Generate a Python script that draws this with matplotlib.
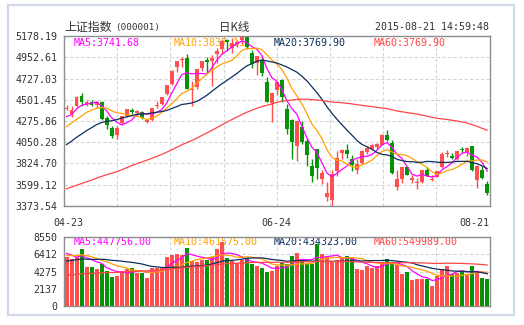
import numpy as np
import pandas as pd
import matplotlib
matplotlib.use("Agg")
import matplotlib.pyplot as plt
from matplotlib.patches import Rectangle

# ---------------- data ----------------
opens = [4407, 4350, 4440, 4538, 4446, 4483, 4441, 4479, 4310, 4202,
         4128, 4250, 4330, 4398, 4357, 4370, 4270, 4285, 4433, 4455,
         4562, 4667, 4854, 4928, 4943, 4603, 4633, 4845, 4924, 4912,
         4987, 5045, 5144, 5049, 5101, 5143, 5174, 5004, 4890, 4931,
         4690, 4471, 4604, 4711, 4399, 4289, 4006, 4214, 4058, 3793,
         3975, 3654, 3467, 3432, 3739, 3934, 3963, 3874, 3752, 3827,
         3950, 3976, 4001, 4020, 4124, 4042, 3573, 3653, 3785, 3649,
         3614, 3626, 3752, 3650, 3681, 3786, 3927, 3900, 3868, 3976,
         3947, 4006, 3646, 3755, 3609]
highs = [4444, 4431, 4547, 4572, 4499, 4504, 4489, 4488, 4331, 4222,
         4223, 4334, 4402, 4414, 4389, 4378, 4296, 4418, 4492, 4530,
         4658, 4814, 4911, 4958, 4986, 4698, 4829, 4911, 4956, 4976,
         5052, 5147, 5148, 5164, 5143, 5178.19, 5176, 5029, 4969, 4967,
         4744, 4577, 4691, 4720, 4456, 4297, 4287, 4280, 4080, 3874,
         3975, 3750, 3622, 3749, 3960, 3976, 4031, 3918, 3871, 3963,
         4006, 4029, 4045, 4133, 4184, 4070, 3757, 3789, 3801, 3699,
         3665, 3757, 3783, 3705, 3748, 3943, 3970, 3939, 3958, 4000,
         3994, 4006, 3804, 3792, 3640]
lows = [4393, 4321, 4428, 4432, 4439, 4433, 4413, 4282, 4193, 4099,
        4087, 4238, 4317, 4350, 4335, 4301, 4257, 4280, 4417, 4441,
        4551, 4663, 4802, 4853, 4619, 4431, 4616, 4807, 4792, 4647,
        4897, 4993, 5018, 5001, 5060, 5099, 5048, 4842, 4767, 4758,
        4476, 4264, 4552, 4483, 4140, 3875, 3848, 4035, 3796, 3629,
        3653, 3602, 3421, 3373.54, 3690, 3874, 3885, 3744, 3710, 3822,
        3926, 3967, 3982, 4018, 4062, 3708, 3537, 3616, 3698, 3615,
        3549, 3620, 3689, 3640, 3677, 3775, 3891, 3873, 3858, 3939,
        3899, 3743, 3558, 3663, 3491]
closes = [4414, 4394, 4527, 4476, 4476, 4441, 4480, 4298, 4229, 4112,
          4205, 4333, 4401, 4375, 4378, 4308, 4283, 4417, 4446, 4529,
          4657, 4813, 4910, 4941, 4620, 4611, 4828, 4910, 4909, 4947,
          5023, 5131, 5113, 5106, 5121, 5166, 5062, 4887, 4967, 4785,
          4478, 4576, 4690, 4527, 4192, 4053, 4277, 4053, 3912, 3687,
          3776, 3727, 3507, 3710, 3877, 3970, 3924, 3805, 3823, 3957,
          3992, 4017, 4026, 4124, 4070, 3725, 3663, 3789, 3705, 3664,
          3622, 3756, 3695, 3661, 3744, 3928, 3928, 3887, 3955, 3965,
          3993, 3749, 3794, 3664, 3508]
volumes = [6013, 5809, 6095, 7036, 4827, 4827, 4582, 5154, 4336, 3559,
           3723, 4377, 4541, 4664, 4132, 4050, 3518, 4664, 4745, 4664,
           6054, 6300, 6423, 6300, 7159, 5563, 5400, 5727, 5727, 6095,
           7036, 7854, 5972, 5563, 5277, 5727, 5891, 5154, 4991, 4745,
           4254, 4336, 4991, 5277, 5154, 6218, 6545, 5563, 5154, 5154,
           7609, 6382, 6218, 5563, 5686, 5972, 6177, 5891, 4582, 4500,
           4991, 4745, 4991, 5400, 5809, 5400, 5072, 3927, 4254, 3232,
           3354, 3354, 3354, 2536, 3763, 4582, 4909, 4009, 4050, 4254,
           4009, 4909, 4254, 3518, 3354]
# closes and volumes of the 59 sessions before the first visible day (for moving averages)
prior_closes = [3343, 3351, 3383, 3352, 3305, 3262, 3210,
                3128, 3204, 3174, 3136, 3075, 3095, 3141, 3157, 3173, 3203, 3223, 3246,
                3228, 3298, 3310,
                3336, 3263, 3279, 3248, 3241, 3302, 3286, 3290, 3349, 3372, 3449, 3503,
                3577, 3582, 3617, 3688, 3691, 3661, 3682, 3691, 3786, 3748,
                3810, 3825, 3863, 3961, 3995, 3957, 4034, 4121, 4135, 4084, 4194,
                4287, 4217, 4293, 4398]
prior_volumes = [3600, 3400, 3500, 3300, 3200, 3100, 2900,
                 2600, 2500, 2500, 2400, 2300, 2200, 2300, 2300, 2400, 2500, 2400, 2300,
                 2400, 2600, 2700,
                 2900, 2800, 2700, 2600, 2500, 2700, 2600, 2700, 3000, 3200, 3600, 3800,
                 4100, 3900, 4000, 4300, 4200, 4440,
                 4300, 4400, 5200, 5400, 5000, 4900, 4800, 5100, 5300, 4677,
                 5600, 6200, 5900, 6000, 5970,
                 6900, 7400, 6000, 6200]
date_labels = ["04-23", "06-24", "08-21"]
date_label_idx = [0, 42, 84]
price_ticks = ["3373.54", "3599.12", "3824.70", "4050.28", "4275.86",
               "4501.45", "4727.03", "4952.61", "5178.19"]
vol_ticks = ["0", "2137", "4275", "6412", "8550"]
ma_periods = [5, 10, 20, 60]
price_ma_text = ["MA5:3741.68", "MA10:3837.11", "MA20:3769.90", "MA60:3769.90"]
vol_ma_text = ["MA5:447756.00", "MA10:461575.00", "MA20:434323.00", "MA60:549989.00"]
title_name = "上证指数"
title_code = "(000001)"
title_kind = "日K线"
timestamp = "2015-08-21 14:59:48"

# ---------------- style ----------------
RED = "#ff4f4f"
GREEN = "#079307"
MA_COLORS = ["#ff00ff", "#ffa200", "#0c2f5e", "#ff4646"]
GRID = "#d4d4d4"
SPINE = "#8e8e8e"
TXT = "#333333"
MONO = "DejaVu Sans Mono"
CJK = ["Noto Sans CJK SC", "DejaVu Sans"]

W, H = 524, 325
fig = plt.figure(figsize=(W / 100, H / 100), dpi=100)
fig.patch.set_facecolor("white")

def fx(px):
    return px / W

def fy(py):
    return 1 - py / H

# outer frame
fig.patches.append(Rectangle((fx(8), fy(315)), fx(514) - fx(8), fy(5) - fy(315),
                             transform=fig.transFigure, fill=False,
                             edgecolor="#cfd9e8", linewidth=1.6))

L, R = 64, 489.7
ax = fig.add_axes([fx(L), fy(205.7), fx(R) - fx(L), fy(36.3) - fy(205.7)])
axv = fig.add_axes([fx(L), fy(306.3), fx(R) - fx(L), fy(236.7) - fy(306.3)])

n = len(closes)
x = np.arange(n)
o = np.array(opens, float)
c = np.array(closes, float)
hi = np.array(highs, float)
lo = np.array(lows, float)
v = np.array(volumes, float)
up = c >= o
cols = np.where(up, RED, GREEN)

pmin, pmax = float(price_ticks[0]), float(price_ticks[-1])
vmax = float(vol_ticks[-1])

for a in (ax, axv):
    a.set_xlim(-0.5, n - 0.5)
    a.set_facecolor("white")
    for s in a.spines.values():
        s.set_color(SPINE)
        s.set_linewidth(1.0)
    a.tick_params(length=0, pad=4.5, labelsize=7.2, colors=TXT)
    a.set_xticks([])
    a.set_xticks(np.linspace(-0.5, n - 0.5, 9), minor=True)
    a.grid(True, which="minor", axis="x", color=GRID, linestyle=(0, (3, 2)), linewidth=0.8)
    a.grid(True, which="major", axis="y", color=GRID, linestyle=(0, (3, 2)), linewidth=0.8)
    a.tick_params(which="minor", length=0)
    a.set_axisbelow(True)

ax.set_ylim(pmin, pmax)
ax.set_yticks(np.linspace(pmin, pmax, len(price_ticks)))
ax.set_yticklabels(price_ticks, fontfamily=MONO)
axv.set_ylim(0, vmax)
axv.set_yticks(np.linspace(0, vmax, len(vol_ticks)))
axv.set_yticklabels(vol_ticks, fontfamily=MONO)

# candles
body_bottom = np.minimum(o, c)
body_h = np.maximum(np.abs(c - o), 9)
ax.vlines(x, lo, hi, colors=cols, linewidth=1.0, zorder=3)
ax.bar(x, body_h, bottom=body_bottom, width=0.78, color=cols, linewidth=0, zorder=4)

# moving averages
all_c = pd.Series(list(prior_closes) + list(closes), dtype=float)
all_v = pd.Series(list(prior_volumes) + list(volumes), dtype=float)
k = len(prior_closes)
for p, col in zip(ma_periods, MA_COLORS):
    ax.plot(x, all_c.rolling(p).mean().values[k:], color=col, linewidth=0.9, zorder=5)
    axv.plot(x, all_v.rolling(p).mean().values[len(prior_volumes):], color=col,
             linewidth=0.9, zorder=5)

# volume bars
axv.bar(x, v, width=0.8, color=cols, linewidth=0, zorder=3)

# MA legend texts
for i, (t1, t2, col) in enumerate(zip(price_ma_text, vol_ma_text, MA_COLORS)):
    ax.text(fx(74 + 100 * i) , fy(43), t1, transform=fig.transFigure, color=col,
            fontsize=7.2, fontfamily=MONO, va="center", ha="left", zorder=2)
    axv.text(fx(74 + 100 * i), fy(242.3), t2, transform=fig.transFigure, color=col,
             fontsize=7.2, fontfamily=MONO, va="center", ha="left", zorder=2)

# date labels
for lab, idx, ha in zip(date_labels, date_label_idx, ["center", "center", "right"]):
    xx = idx + (0.3 if ha == "center" and idx == 0 else 0)
    if ha == "right":
        ax.text(1.0, fy(222.5), lab, transform=matplotlib.transforms.blended_transform_factory(ax.transAxes, fig.transFigure),
                ha="right", va="center", fontsize=7.2, fontfamily=MONO, color=TXT)
    else:
        ax.text(xx, fy(222.5), lab, transform=matplotlib.transforms.blended_transform_factory(ax.transData, fig.transFigure),
                ha="center", va="center", fontsize=7.2, fontfamily=MONO, color=TXT)

# header
fig.text(fx(64), fy(27.5), title_name, fontsize=8.6, family=CJK, color=TXT, va="center", ha="left")
fig.text(fx(115.5), fy(27.5), title_code, fontsize=6.7, fontfamily=MONO, color=TXT, va="center", ha="left")
fig.text(fx(234), fy(27.5), title_kind, fontsize=8.3, family=CJK, color=TXT, va="center", ha="center")
fig.text(fx(489), fy(27.5), timestamp, fontsize=7.2, fontfamily=MONO, color=TXT, va="center", ha="right")

fig.savefig("out.png", dpi=100, facecolor="white")
